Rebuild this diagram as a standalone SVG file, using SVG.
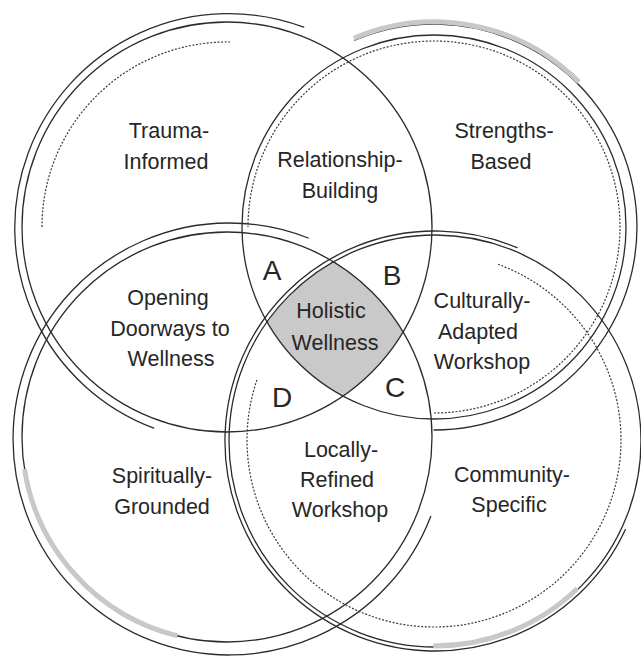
<svg xmlns="http://www.w3.org/2000/svg" width="641" height="656" viewBox="0 0 641 656">
  <style>
    .ln { fill: none; stroke: #2b2b2b; stroke-width: 1.3; stroke-linecap: round; }
    .dt { fill: none; stroke: #3a3a3a; stroke-width: 1.2; stroke-dasharray: 2 1.6; }
    .hl { fill: none; stroke: #c8c8c8; stroke-width: 5; stroke-linecap: butt; }
    text { font-family: "Liberation Sans", Arial, sans-serif; fill: #262626; text-anchor: middle; }
    .lb { font-size: 21.5px; }
    .ltr { font-size: 28px; }
  </style>
  <defs>
    <clipPath id="clipTL"><circle cx="227" cy="227" r="205"/></clipPath>
    <clipPath id="clipTR"><circle cx="434" cy="227" r="192"/></clipPath>
    <clipPath id="clipBL"><circle cx="227" cy="437" r="205"/></clipPath>
    <clipPath id="clipBR"><circle cx="435" cy="441" r="206"/></clipPath>
  </defs>

  <rect width="641" height="656" fill="#ffffff"/>

  <!-- shared core: intersection of all four circles -->
  <g id="holistic-wellness">
    <g clip-path="url(#clipTL)">
      <g clip-path="url(#clipTR)">
        <g clip-path="url(#clipBL)">
          <rect x="200" y="200" width="260" height="260" fill="#c9c9c9" clip-path="url(#clipBR)"/>
        </g>
      </g>
    </g>
    <text class="lb" x="331" y="318">Holistic</text>
    <text class="lb" x="335" y="350">Wellness</text>
  </g>

  <!-- top-left circle -->
  <g id="trauma-informed">
    <circle class="ln" cx="227" cy="227" r="205"/>
    <path class="ln" d="M303.7,27.2 A214,214 0 1 0 153.8,428.1"/>
    <path class="dt" d="M230.2,42 A185,185 0 0 0 42,227"/>
    <text class="lb" x="169" y="138">Trauma-</text>
    <text class="lb" x="166" y="169">Informed</text>
  </g>

  <!-- top-right circle -->
  <g id="strengths-based">
    <circle class="ln" cx="434" cy="227" r="192"/>
    <path class="ln" d="M354.7,40.1 A203,203 0 1 1 434,430"/>
    <path class="dt" d="M434,413 A186,186 0 1 0 248,227"/>
    <path class="hl" d="M353.9,38.3 A205,205 0 0 1 579,82"/>
    <text class="lb" x="504" y="138">Strengths-</text>
    <text class="lb" x="501" y="169">Based</text>
  </g>

  <!-- bottom-left circle -->
  <g id="spiritually-grounded">
    <circle class="ln" cx="227" cy="437" r="205"/>
    <path class="ln" d="M308.2,238 A216,216 0 1 0 430.7,516.4"/>
    <path class="hl" d="M177.4,635.9 A205,205 0 0 1 24.5,469.1"/>
    <text class="lb" x="162" y="483">Spiritually-</text>
    <text class="lb" x="162" y="514">Grounded</text>
  </g>

  <!-- bottom-right circle -->
  <g id="community-specific">
    <circle class="ln" cx="435" cy="441" r="206"/>
    <path class="ln" d="M517,247.7 A210,210 0 1 0 625.3,529.7"/>
    <path class="dt" d="M498,264.3 A187,187 0 1 1 257.2,379.1"/>
    <path class="hl" d="M577.4,588.5 A205,205 0 0 1 433.2,646"/>
    <text class="lb" x="512" y="482">Community-</text>
    <text class="lb" x="509" y="512">Specific</text>
  </g>

  <!-- two-circle overlaps -->
  <g id="relationship-building">
    <text class="lb" x="340" y="167">Relationship-</text>
    <text class="lb" x="340" y="198">Building</text>
  </g>
  <g id="opening-doorways">
    <text class="lb" x="168" y="305">Opening</text>
    <text class="lb" x="170" y="336">Doorways to</text>
    <text class="lb" x="171" y="366">Wellness</text>
  </g>
  <g id="culturally-adapted">
    <text class="lb" x="482" y="308">Culturally-</text>
    <text class="lb" x="478" y="339">Adapted</text>
    <text class="lb" x="482" y="369">Workshop</text>
  </g>
  <g id="locally-refined">
    <text class="lb" x="341" y="457">Locally-</text>
    <text class="lb" x="337" y="487">Refined</text>
    <text class="lb" x="340" y="517">Workshop</text>
  </g>

  <!-- three-circle overlaps -->
  <g id="overlap-a"><text class="ltr" x="272" y="280">A</text></g>
  <g id="overlap-b"><text class="ltr" x="392" y="285">B</text></g>
  <g id="overlap-c"><text class="ltr" x="395" y="397">C</text></g>
  <g id="overlap-d"><text class="ltr" x="282" y="407">D</text></g>
</svg>
